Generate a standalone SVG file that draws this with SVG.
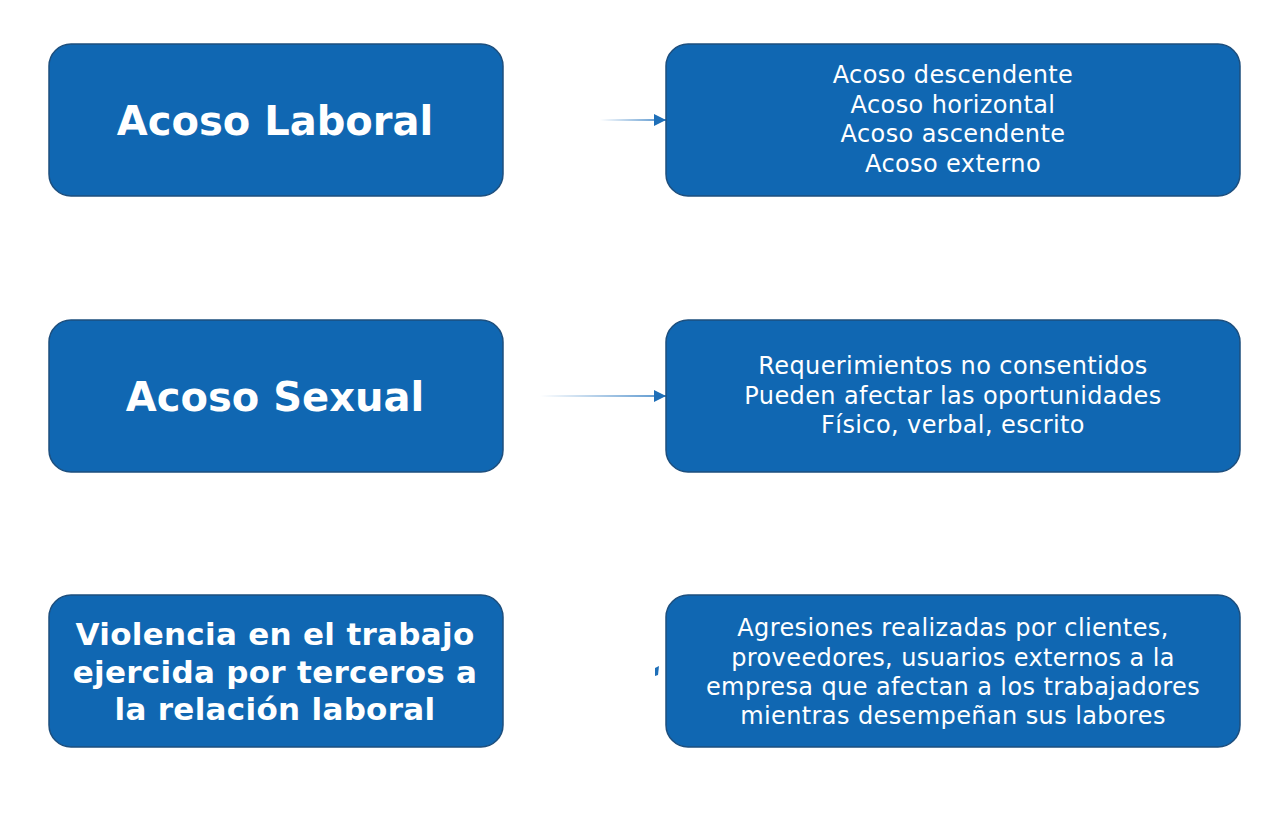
<svg xmlns="http://www.w3.org/2000/svg" width="1280" height="834" viewBox="0 0 1280 834">
<defs>
<style>
.box{fill:#1067b2;stroke:#1d4f7e;stroke-width:1.5}
.title{font-family:"DejaVu Sans",Verdana,sans-serif;font-weight:bold;fill:#fff;text-anchor:middle}
.desc{font-family:"DejaVu Sans",Verdana,sans-serif;font-size:24px;letter-spacing:0.4px;fill:#fff;text-anchor:middle}
.conn{fill:none;stroke-width:1.5}
</style>
<linearGradient id="g1" gradientUnits="userSpaceOnUse" x1="600" y1="0" x2="660" y2="0">
<stop offset="0" stop-color="#2a78c0" stop-opacity="0"/>
<stop offset="1" stop-color="#2a78c0" stop-opacity="1"/>
</linearGradient>
<linearGradient id="g2" gradientUnits="userSpaceOnUse" x1="540" y1="0" x2="660" y2="0">
<stop offset="0" stop-color="#2a78c0" stop-opacity="0"/>
<stop offset="1" stop-color="#2a78c0" stop-opacity="1"/>
</linearGradient>
<marker id="arr" viewBox="0 0 10 10" refX="10" refY="5" markerWidth="13" markerHeight="12" markerUnits="userSpaceOnUse" orient="auto">
<path d="M0,0 L10,5 L0,10 z" fill="#1e6fb8"/>
</marker>
</defs>
<rect width="1280" height="834" fill="#fff"/>
<g id="connectors">
<line class="conn" x1="504" y1="120" x2="666" y2="120" stroke="url(#g1)" marker-end="url(#arr)"/>
<line class="conn" x1="504" y1="396" x2="666" y2="396" stroke="url(#g2)" marker-end="url(#arr)"/>
<path d="M655,668 L659,666 L658,675 L655,676 z" fill="#1e6fb8"/>
</g>
<g id="acoso-laboral">
<rect class="box" x="49" y="44" width="454" height="152" rx="22"/>
<text class="title" x="275" y="135" font-size="40">Acoso Laboral</text>
</g>
<g id="acoso-laboral-tipos">
<rect class="box" x="666" y="44" width="574" height="152" rx="22"/>
<text class="desc" x="953" y="83">Acoso descendente</text>
<text class="desc" x="953" y="113">Acoso horizontal</text>
<text class="desc" x="953" y="142">Acoso ascendente</text>
<text class="desc" x="953" y="172">Acoso externo</text>
</g>
<g id="acoso-sexual">
<rect class="box" x="49" y="320" width="454" height="152" rx="22"/>
<text class="title" x="275" y="411" font-size="40">Acoso Sexual</text>
</g>
<g id="acoso-sexual-desc">
<rect class="box" x="666" y="320" width="574" height="152" rx="22"/>
<text class="desc" x="953" y="374">Requerimientos no consentidos</text>
<text class="desc" x="953" y="404">Pueden afectar las oportunidades</text>
<text class="desc" x="953" y="433">Físico, verbal, escrito</text>
</g>
<g id="violencia-terceros">
<rect class="box" x="49" y="595" width="454" height="152" rx="22"/>
<text class="title" x="275" y="645" font-size="31" letter-spacing="0.3">Violencia en el trabajo</text>
<text class="title" x="275" y="683" font-size="31" letter-spacing="0.3">ejercida por terceros a</text>
<text class="title" x="275" y="720" font-size="31" letter-spacing="0.3">la relación laboral</text>
</g>
<g id="violencia-desc">
<rect class="box" x="666" y="595" width="574" height="152" rx="22"/>
<text class="desc" x="953" y="636">Agresiones realizadas por clientes,</text>
<text class="desc" x="953" y="666">proveedores, usuarios externos a la</text>
<text class="desc" x="953" y="695">empresa que afectan a los trabajadores</text>
<text class="desc" x="953" y="724">mientras desempeñan sus labores</text>
</g>
</svg>
